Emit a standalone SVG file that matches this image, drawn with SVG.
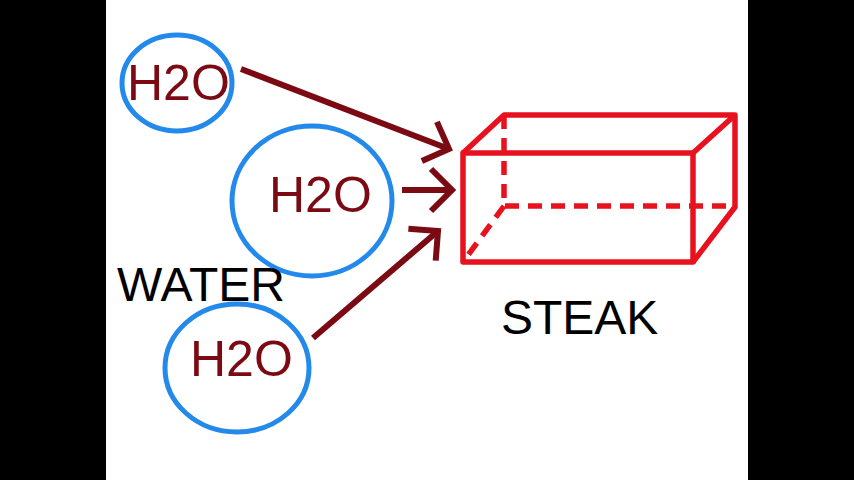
<svg xmlns="http://www.w3.org/2000/svg" width="854" height="480" viewBox="0 0 854 480">
<style>
.ring{fill:none;stroke:#2389ea;stroke-width:5}
.h2o{font-family:"Liberation Sans",Arial,sans-serif;font-size:50px;fill:#7b0a12}
.lbl{font-family:"Liberation Sans",Arial,sans-serif;font-size:48px;fill:#000}
.arrow{fill:none;stroke:#7b0a12;stroke-width:6;marker-end:url(#chev)}
.box{fill:none;stroke:#e8121f;stroke-width:5.5;stroke-linejoin:round}
.dash{stroke-dasharray:14 9}
</style>
<defs>
<marker id="chev" markerUnits="userSpaceOnUse" viewBox="-26 -26 30 52" refX="0" refY="0" markerWidth="30" markerHeight="52" orient="auto" overflow="visible">
<path d="M-21,-21 L0,0 L-21,21" fill="none" stroke="#7b0a12" stroke-width="6"/>
</marker>
</defs>
<rect x="0" y="0" width="854" height="480" fill="#000"/>
<rect x="106" y="0" width="642" height="480" fill="#fff"/>
<g id="connectors">
<path class="arrow" d="M241,69 L449,149"/>
<path class="arrow" d="M402,190 L452,190"/>
<path class="arrow" d="M313,338 L438,231"/>
</g>
<g id="h2o-top">
<ellipse class="ring" cx="177" cy="83" rx="55" ry="48"/>
<text class="h2o" x="127" y="100">H2O</text>
</g>
<g id="h2o-middle">
<ellipse class="ring" cx="312" cy="201" rx="80" ry="75"/>
<text class="h2o" x="269" y="212">H2O</text>
</g>
<g id="h2o-bottom">
<ellipse class="ring" cx="237" cy="368" rx="72" ry="64"/>
<text class="h2o" x="190" y="376">H2O</text>
</g>
<g id="water">
<text class="lbl" x="117" y="301">WATER</text>
</g>
<g id="steak">
<rect class="box" x="463" y="153" width="230" height="109"/>
<path class="box" d="M463,153 L504,115 L735,115 L735,207 L693,262 M693,153 L735,115"/>
<path class="box dash" d="M504,115 L504,206 L735,206 M504,206 L463,262"/>
<text class="lbl" x="501" y="334">STEAK</text>
</g>
</svg>
